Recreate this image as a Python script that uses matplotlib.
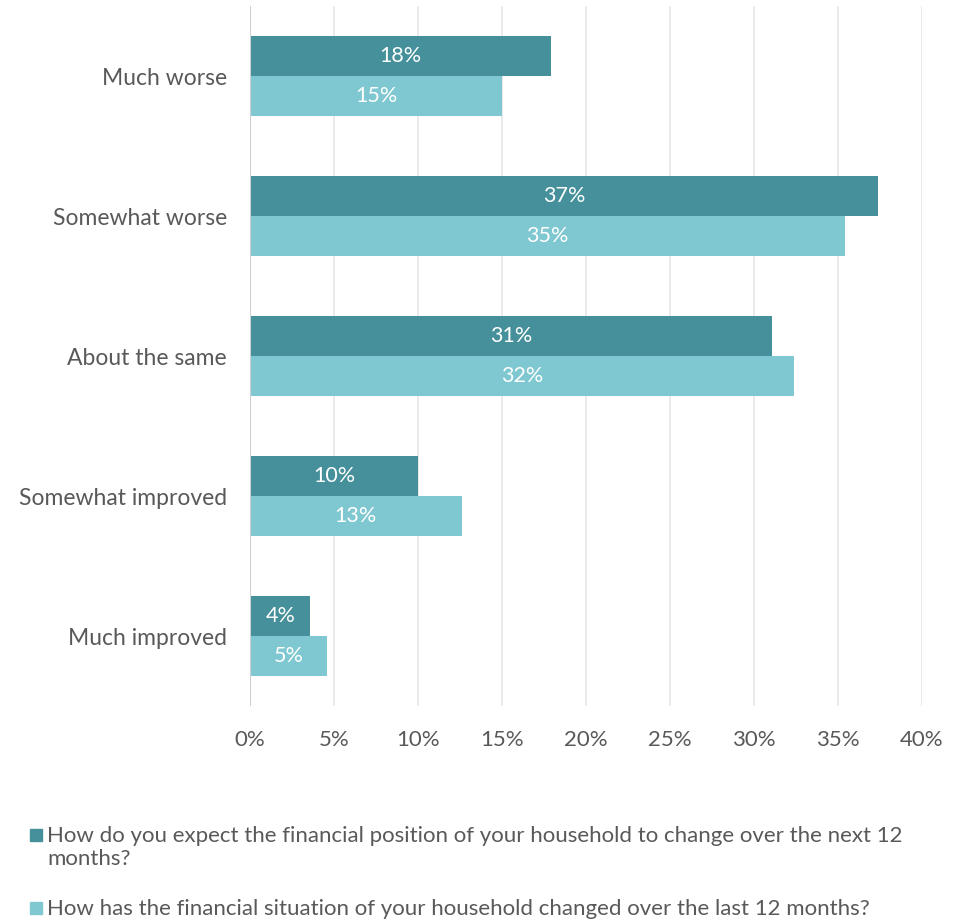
import matplotlib
matplotlib.use('Agg')
import matplotlib.pyplot as plt
from matplotlib.patches import Rectangle
import numpy as np

plt.rcParams['font.family'] = ['Lato', 'DejaVu Sans']

categorias = ['Much worse', 'Somewhat worse', 'About the same',
              'Somewhat improved', 'Much improved']
proximos_12 = [17.9, 37.4, 31.1, 10.0, 3.6]
ultimos_12 = [15.0, 35.4, 32.4, 12.6, 4.6]
serie_labels = [
    'How do you expect the financial position of your household to change over the next 12\nmonths?',
    'How has the financial situation of your household changed over the last 12 months?',
]
xticks = [0, 5, 10, 15, 20, 25, 30, 35, 40]

oscuro = '#45909a'
claro = '#7fc8d1'
gris = '#595959'

fig = plt.figure(figsize=(9.59, 9.24), dpi=100)
ax = fig.add_axes([0.2607, 0.2359, 0.7007, 0.7576])

y = np.arange(len(categorias))
h = 0.2857
b1 = ax.barh(y - h / 2, proximos_12, height=h, color=oscuro)
b2 = ax.barh(y + h / 2, ultimos_12, height=h, color=claro)

# Etiquetas de valor centradas en cada barra
for barras in (b1, b2):
    ax.bar_label(barras, labels=['%.0f%%' % v for v in barras.datavalues],
                 label_type='center', color='white', fontsize=15.5)

ax.set_ylim(len(categorias) - 0.5, -0.5)
ax.set_xlim(0, 40)
ax.set_yticks(y)
ax.set_yticklabels(categorias, fontsize=16.5, color=gris)
ax.set_xticks(xticks)
ax.set_xticklabels(['%d%%' % t for t in xticks], fontsize=16, color=gris)
ax.tick_params(axis='both', length=0)
ax.tick_params(axis='y', pad=16.5)
ax.tick_params(axis='x', pad=17)

# Rejilla vertical y eje del cero
ax.set_axisbelow(True)
ax.grid(axis='x', color='#e6e6e6', linewidth=1.2)
for s in ax.spines.values():
    s.set_visible(False)
ax.axvline(0, color='#cfcfcf', linewidth=1.5)

# Leyenda dibujada a mano para el salto de línea
for lab, col, yy in zip(serie_labels, (oscuro, claro),
                        (1 - 835 / 924, 1 - 908 / 924)):
    fig.patches.append(Rectangle((30 / 959, yy - 6 / 924), 12 / 959, 12 / 924,
                                 color=col, transform=fig.transFigure))
    fig.text(47 / 959, yy + 9 / 924, lab, fontsize=16, color=gris,
             va='top', ha='left', linespacing=1.2)

fig.savefig('out.png', dpi=100)
